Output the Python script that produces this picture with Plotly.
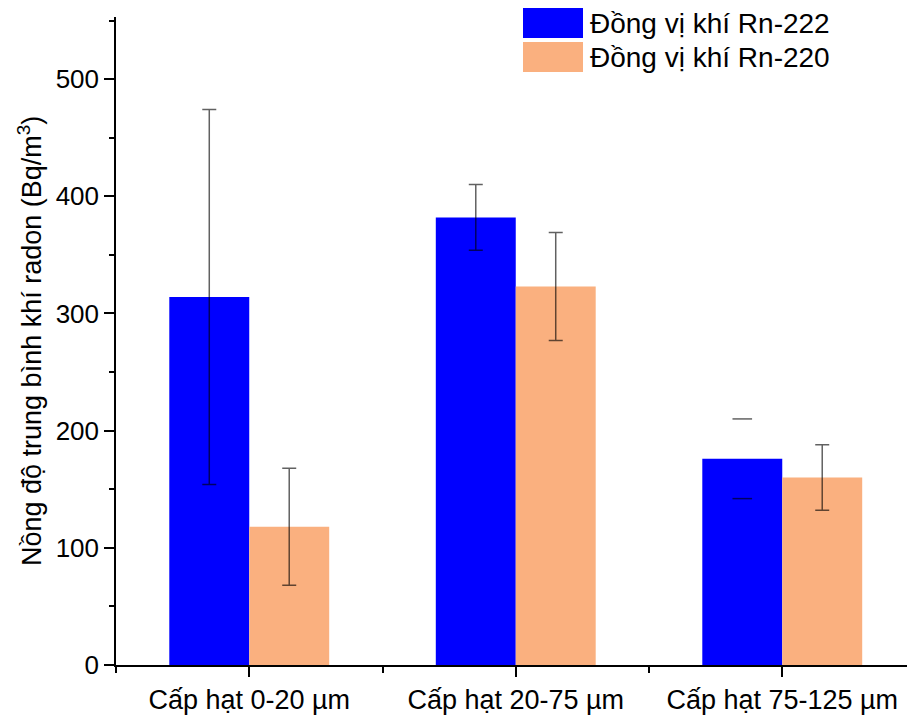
import plotly.graph_objects as go

categories = ["Cấp hạt 0-20 µm", "Cấp hạt 20-75 µm", "Cấp hạt 75-125 µm"]
series_names = ["Đồng vị khí Rn-222", "Đồng vị khí Rn-220"]
rn222 = [314, 382, 176]
rn222_err = [160, 28, 34]
rn222_line_shown = [True, True, False]
rn220 = [118, 323, 160]
rn220_err = [50, 46, 28]
y_ticks = [0, 100, 200, 300, 400, 500]
y_title = "Nồng độ trung bình khí radon (Bq/m<sup>3</sup>)"

BLUE = "#0000FF"
ORANGE = "#FAB07F"
ERR = "rgba(0,0,0,0.62)"
FONT = "Liberation Sans, Arial, sans-serif"
BW = 0.3
idx = list(range(len(categories)))

fig = go.Figure()
for vals, errs, color, off, shown in [
    (rn222, rn222_err, BLUE, -BW / 2, rn222_line_shown),
    (rn220, rn220_err, ORANGE, BW / 2, [True] * 3),
]:
    xs = [i + off for i in idx]
    fig.add_trace(go.Bar(x=xs, y=vals, width=BW, marker=dict(color=color, line=dict(width=0)),
                         showlegend=False))
    ex = [x for x, s in zip(xs, shown) if s]
    ey = [v for v, s in zip(vals, shown) if s]
    ee = [e for e, s in zip(errs, shown) if s]
    fig.add_trace(go.Scatter(x=ex, y=ey, mode="markers", marker=dict(opacity=0, size=1),
                             error_y=dict(type="data", array=ee, visible=True, color=ERR,
                                          thickness=1.5, width=7),
                             showlegend=False, hoverinfo="skip"))
    # caps only (no vertical line) where the line is not shown
    cx, cy = [], []
    for x, v, e, s in zip(xs, vals, errs, shown):
        if not s:
            cx += [x, x]
            cy += [v + e, v - e]
    if cx:
        fig.add_trace(go.Scatter(x=cx, y=cy, mode="markers",
                                 marker=dict(symbol="line-ew", size=14,
                                             line=dict(color=ERR, width=1.5)),
                                 showlegend=False, hoverinfo="skip"))

# custom legend
L, R_, T, B = 116, 907, 17, 665
def px(x):
    return (x - L) / (R_ - L)
def py(y):
    return (B - y) / (B - T)
for k, (name, color) in enumerate(zip(series_names, [BLUE, ORANGE])):
    y0 = 8 + k * 34
    fig.add_shape(type="rect", xref="paper", yref="paper",
                  x0=px(523), x1=px(583), y0=py(y0 + 30), y1=py(y0),
                  fillcolor=color, line=dict(width=0), layer="above")
    fig.add_annotation(xref="paper", yref="paper", x=px(588), y=py(y0 + 15),
                       xanchor="left", yanchor="middle", text=name, showarrow=False,
                       font=dict(size=28, color="black", family=FONT))

fig.add_annotation(xref="paper", yref="paper", x=px(30), y=py(341),
                   xanchor="center", yanchor="middle", textangle=-90, text=y_title,
                   showarrow=False, font=dict(size=27, color="black", family=FONT))

fig.update_layout(
    width=907, height=716,
    margin=dict(l=L, r=0, t=T, b=716 - B),
    paper_bgcolor="white", plot_bgcolor="white",
    barmode="overlay",
    font=dict(family=FONT, size=26, color="black"),
    xaxis=dict(range=[-0.5, -0.5 + (R_ - L) / 266.5], tickvals=idx, ticktext=categories,
               automargin=False,
               showline=True, linecolor="black", linewidth=1.5,
               ticks="outside", ticklen=10, tickwidth=1.5, tickcolor="black",
               minor=dict(tickvals=[i - 0.5 for i in idx], ticks="outside", ticklen=6,
                          tickwidth=1.5, tickcolor="black"),
               showgrid=False, zeroline=False, tickfont=dict(size=27)),
    yaxis=dict(range=[0, 553], tickvals=y_ticks, automargin=False,
               showline=True, linecolor="black", linewidth=1.5,
               ticks="outside", ticklen=10, tickwidth=1.5, tickcolor="black",
               minor=dict(dtick=50, tick0=0, ticks="outside", ticklen=5,
                          tickwidth=1.5, tickcolor="black"),
               showgrid=False, zeroline=False, tickfont=dict(size=26)),
)

fig.write_html("out.html", config={"displayModeBar": False},
               post_script="document.body.style.margin='0';document.body.style.overflow='hidden';")
